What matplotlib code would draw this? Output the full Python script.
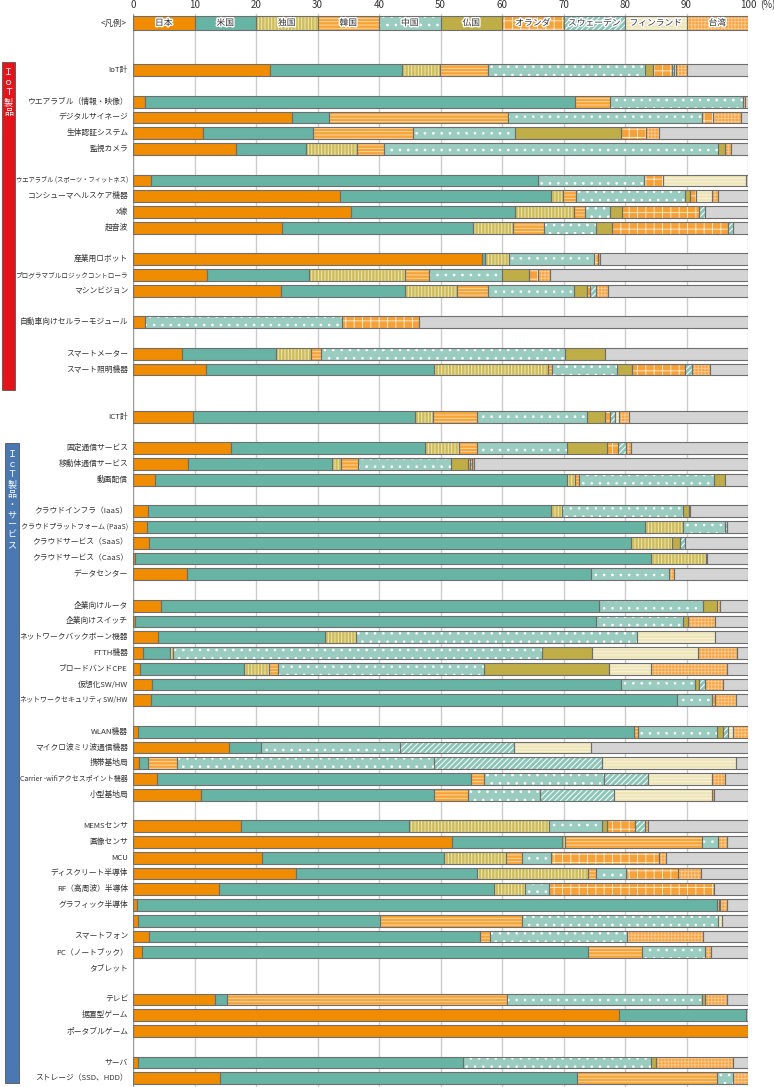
import matplotlib
matplotlib.use("Agg")
import matplotlib.pyplot as plt
import matplotlib.patheffects as pe
from matplotlib.patches import Rectangle

plt.rcParams['font.family'] = ['Noto Sans CJK JP', 'DejaVu Sans']
plt.rcParams['hatch.linewidth'] = 0.7

# country order of the stacked segments
countries = ['日本', '米国', '独国', '韓国', '中国', '仏国', 'オランダ', 'スウェーデン', 'フィンランド', '台湾']

labels = [
    'IoT計', 'ウエアラブル（情報・映像）', 'デジタルサイネージ', '生体認証システム', '監視カメラ',
    'ウエアラブル (スポーツ・フィットネス)', 'コンシューマヘルスケア機器', 'X線', '超音波',
    '産業用ロボット', 'プログラマブルロジックコントローラ', 'マシンビジョン',
    '自動車向けセルラーモジュール',
    'スマートメーター', 'スマート照明機器',
    'ICT計',
    '固定通信サービス', '移動体通信サービス', '動画配信',
    'クラウドインフラ（IaaS）', 'クラウドプラットフォーム (PaaS)', 'クラウドサービス（SaaS）',
    'クラウドサービス（CaaS）', 'データセンター',
    '企業向けルータ', '企業向けスイッチ', 'ネットワークバックボーン機器', 'FTTH機器', 'ブロードバンドCPE',
    '仮想化SW/HW', 'ネットワークセキュリティSW/HW',
    'WLAN機器', 'マイクロ波ミリ波通信機器', '携帯基地局', 'Carrier -wifiアクセスポイント機器', '小型基地局',
    'MEMSセンサ', '画像センサ', 'MCU', 'ディスクリート半導体', 'RF（高周波）半導体', 'グラフィック半導体',
    '', 'スマートフォン', 'PC（ノートブック）', 'タブレット',
    'テレビ', '据置型ゲーム', 'ポータブルゲーム',
    'サーバ', 'ストレージ（SSD、HDD）',
]

# row slot of each item (legend bar sits in slot 0, missing slots are blank lines)
slots = [3, 5, 6, 7, 8, 10, 11, 12, 13, 15, 16, 17, 19, 21, 22, 25, 27, 28, 29,
         31, 32, 33, 34, 35, 37, 38, 39, 40, 41, 42, 43, 45, 46, 47, 48, 49,
         51, 52, 53, 54, 55, 56, 57, 58, 59, 60, 62, 63, 64, 66, 67]

# shares (%)
jp = [22.3, 2.0, 25.8, 11.4, 16.7, 3.0, 33.7, 35.4, 24.3, 56.7, 12.0, 24.1, 2.0, 7.9, 11.9, 9.7, 15.9, 8.9, 3.5,
      2.5, 2.3, 2.6, 0.3, 8.8, 4.5, 0.3, 4.1, 1.7, 1.1, 3.1, 3.0, 0.8, 15.6, 1.0, 3.9, 11.1, 17.5, 51.9, 21.0,
      26.5, 14.0, 0.7, 0.8, 2.6, 1.4, 0, 13.4, 79.0, 100, 0.8, 14.1]
us = [21.4, 69.9, 6.1, 17.9, 11.4, 62.9, 34.2, 26.7, 31.0, 0.6, 16.6, 20.2, 0, 15.4, 37.1, 36.2, 31.6, 23.4, 67.0,
      65.4, 80.9, 78.3, 84.0, 65.6, 71.2, 75.0, 27.2, 4.3, 17.0, 76.2, 85.5, 80.6, 5.2, 1.4, 51.1, 37.8, 27.4, 17.9,
      29.6, 29.4, 44.7, 94.2, 39.4, 53.8, 72.6, 0, 1.9, 20.6, 0, 52.8, 58.1]
de = [6.2, 0, 0, 0, 8.3, 0, 2.0, 9.6, 6.5, 3.8, 15.6, 8.4, 0, 5.7, 18.5, 2.9, 5.5, 1.6, 1.4, 1.9, 6.3, 6.7, 8.8,
      0, 0, 0, 4.9, 0.5, 4.0, 0, 0, 0, 0, 0, 0, 0, 22.7, 0.4, 10.1, 18.1, 5.0, 0, 0, 0, 0, 0, 0, 0, 0, 0, 0]
kr = [7.9, 5.6, 29.1, 16.2, 4.4, 0, 2.1, 1.8, 5.0, 0, 3.9, 5.1, 0, 1.6, 0.7, 7.2, 3.0, 2.7, 0.6, 0, 0, 0, 0, 0,
      0, 0, 0, 0, 1.5, 0, 0, 0.7, 0, 4.8, 2.0, 5.5, 0, 22.3, 2.5, 1.3, 0, 0.4, 23.1, 1.7, 8.8, 0, 45.5, 0, 0, 0, 22.8]
cn = [25.5, 21.7, 31.6, 16.6, 54.3, 17.2, 17.8, 4.0, 8.5, 13.9, 11.9, 13.9, 32.0, 39.7, 10.5, 17.8, 14.6, 15.1,
      22.0, 19.7, 6.7, 0, 0, 12.8, 17.0, 14.2, 45.8, 60.0, 33.5, 12.1, 5.6, 12.8, 22.6, 41.8, 19.6, 11.8, 8.7, 2.6,
      4.8, 4.8, 3.9, 0.2, 31.8, 22.2, 10.2, 0, 31.7, 0, 0, 30.7, 2.5]
fr = [1.3, 0, 0, 17.2, 1.1, 0, 0.8, 2.0, 2.6, 0, 4.4, 2.1, 0, 6.5, 2.4, 2.9, 6.5, 2.8, 1.7, 0.9, 0, 1.3, 0, 0,
      2.3, 0.7, 0, 8.2, 20.3, 0.6, 0, 1.0, 0, 0, 0, 0, 0.7, 0, 0, 0, 0, 0, 0, 0, 0, 0, 0.5, 0, 0, 0.7, 0]
nl = [3.0, 0, 1.7, 4.1, 0, 3.0, 1.0, 12.5, 18.9, 0.6, 1.5, 0.5, 12.5, 0, 8.6, 0.9, 1.7, 0.3, 0, 0, 0, 0, 0, 0,
      0, 0, 0, 0, 0, 0, 0.5, 0, 0, 0, 0, 0, 4.6, 0, 17.5, 8.5, 26.9, 0, 0, 0, 0, 0, 0, 0, 0, 0, 0]
se = [0.3, 0, 0, 0, 0, 0, 0, 1.0, 0.8, 0, 0, 1.0, 0, 0, 1.2, 0.8, 1.3, 0.4, 0, 0, 0.4, 0.8, 0.3, 0, 0, 0, 0, 0,
      0, 1.0, 0, 0.8, 18.6, 27.2, 7.1, 12.0, 1.7, 0, 0, 0, 0, 0, 0, 0, 0, 0, 0, 0, 0, 0, 0]
fi = [0.4, 0, 0, 0, 0, 13.5, 2.6, 0, 0, 0, 0, 0, 0, 0, 0, 0.6, 0, 0, 0, 0, 0, 0, 0, 0, 0, 0, 12.6, 17.2, 6.9,
      0, 0, 0.8, 12.5, 21.8, 10.4, 15.9, 0, 0, 0, 0, 0, 0, 0.6, 0, 0, 0, 0, 0, 0, 0, 0]
tw = [1.7, 0.3, 4.6, 2.1, 1.1, 0, 1.0, 0, 0, 0.3, 1.9, 2.0, 0, 0, 3.0, 1.6, 0.9, 0.3, 0, 0.2, 0, 0, 0, 0.7, 0.4,
      4.4, 0, 6.3, 12.3, 3.0, 3.4, 2.5, 0, 0, 2.1, 0.4, 0.4, 1.5, 1.1, 3.8, 0, 1.1, 0, 12.4, 1.0, 0, 3.6, 0, 0,
      12.6, 2.5]

series = [jp, us, de, kr, cn, fr, nl, se, fi, tw]

# fill colour, hatch pattern, hatch colour for each country
styles = [
    ('#F08C00', None, None),
    ('#68B4A4', None, None),
    ('#CDBD5E', '|||||', '#EEE6AE'),
    ('#F6A43A', '-----', '#FCD7A0'),
    ('#9ACDBF', '..', '#FFFFFF'),
    ('#BFAD47', None, None),
    ('#F6A23A', '++', '#FFE6C4'),
    ('#8DC6B9', '//////', '#FFFFFF'),
    ('#EEE5B8', '-----', '#F8F3DC'),
    ('#F6A445', '+++++', '#FAC888'),
]
other_color = '#D4D4D4'
edge = '#6E6E6E'

fig = plt.figure(figsize=(7.74, 10.87), dpi=100)
ax = fig.add_axes([133 / 774, 0, 615 / 774, (1087 - 14) / 1087])
ax.set_xlim(0, 100)
ax.set_ylim(67.56, -0.57)


def seg(y, left, width, h, style, z=3):
    color, hatch, hcol = style
    ax.barh(y, width, left=left, height=h, color=color, linewidth=0, zorder=z)
    if hatch:
        ax.barh(y, width, left=left, height=h, color='none', edgecolor=hcol,
                hatch=hatch, linewidth=0, zorder=z + 0.1)
    ax.barh(y, width, left=left, height=h, color='none', edgecolor=edge,
            linewidth=0.8, zorder=z + 0.2)


# grid
for gx in range(0, 101, 10):
    ax.axvline(gx, color='#CCCCCC' if gx else '#999999', lw=1.0, zorder=1)

bh = 0.74
for i, y in enumerate(slots):
    vals = [s[i] for s in series]
    total = sum(vals)
    if total == 0:
        continue
    left = 0
    for v, st in zip(vals, styles):
        if v > 0:
            seg(y, left, v, bh, st)
            left += v
    if left < 99.95:
        seg(y, left, 100 - left, bh, (other_color, None, None))

# legend bar in slot 0
for k, (name, st) in enumerate(zip(countries, styles)):
    seg(0, k * 10, 10, 0.9, st, z=4)
    ax.text(k * 10 + 5, 0, name, ha='center', va='center', fontsize=6.3, color='#333333', zorder=6,
            path_effects=[pe.withStroke(linewidth=2, foreground='white')])
ax.text(-1.0, 0, '<凡例>', ha='right', va='center', fontsize=6, color='#333333')

# row labels, shrunk where they would run into the side boxes
renderer = fig.canvas.get_renderer()
for lab, y in zip(labels, slots):
    t = ax.text(-0.8, y, lab, ha='right', va='center', fontsize=5.6, color='#333333')
    max_w = 112 if y < 24 else 108
    w = t.get_window_extent(renderer).width
    if w > max_w:
        t.set_fontsize(5.6 * max_w / w)

# top axis
ax.xaxis.tick_top()
ax.set_xticks(range(0, 101, 10))
ax.set_xticklabels([str(t) for t in range(0, 101, 10)])
ax.tick_params(axis='x', length=0, pad=3, labelsize=7, labelcolor='#333333')
ax.text(101.9, 1 + 9 / 1073, '(%)', ha='left', va='center', fontsize=7, color='#333333',
        transform=ax.get_xaxis_transform(), clip_on=False)
ax.set_yticks([])
for sp in ax.spines.values():
    sp.set_visible(False)

# side category boxes
fig.patches.append(Rectangle((2 / 774, 1 - 390 / 1087), 13 / 774, (390 - 62) / 1087,
                             transform=fig.transFigure, facecolor='#E5141B', edgecolor='#555555', lw=0.6))
fig.text(8.5 / 774, 1 - 68 / 1087, '\n'.join('ＩｏＴ製品'), ha='center', va='top',
         color='white', fontsize=6.5, linespacing=1.15)
fig.patches.append(Rectangle((5 / 774, 1 - 1083 / 1087), 14 / 774, (1083 - 443) / 1087,
                             transform=fig.transFigure, facecolor='#4A78B2', edgecolor='#555555', lw=0.6))
fig.text(12 / 774, 1 - 450 / 1087, '\n'.join('ＩｃＴ製品・サービス'), ha='center', va='top',
         color='white', fontsize=6.5, linespacing=1.15)

fig.savefig('out.png', dpi=100)
